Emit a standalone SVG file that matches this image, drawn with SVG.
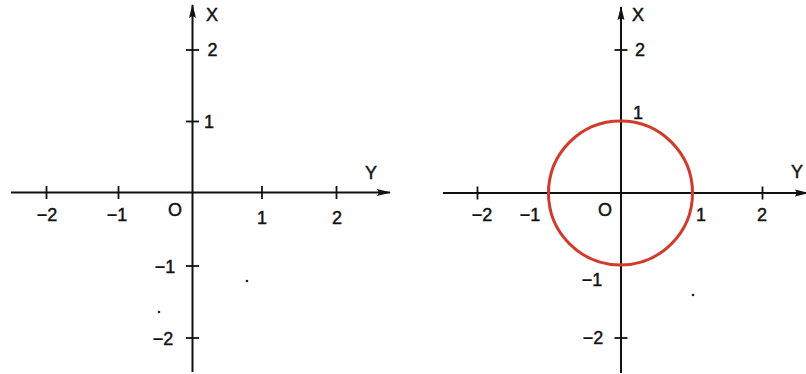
<svg xmlns="http://www.w3.org/2000/svg" width="806" height="374" viewBox="0 0 806 374">
<defs>
<marker id="arr" viewBox="0 0 14 8" refX="13" refY="4" markerWidth="14" markerHeight="8" markerUnits="userSpaceOnUse" orient="auto">
<path d="M0,0.5 L14,4 L0,7.5 L2,4 Z" fill="#111"/>
</marker>
<style>
.ax{stroke:#111;stroke-width:2;fill:none}
.tk{stroke:#111;stroke-width:1.8}
.t{font-family:"Liberation Sans",Arial,sans-serif;font-size:18px;fill:#111;stroke:#111;stroke-width:0.45;text-anchor:middle;dominant-baseline:central}
.circ{fill:none;stroke:#d03c2c;stroke-width:3}
</style>
</defs>
<rect width="806" height="374" fill="#fff"/>

<g id="left-plot">
<g id="left-axes" class="connectors">
<line class="ax" x1="11" y1="192.5" x2="390" y2="192.5" marker-end="url(#arr)"/>
<line class="ax" x1="192.5" y1="372" x2="192.5" y2="5" marker-end="url(#arr)"/>
</g>
<g id="left-ticks">
<line class="tk" x1="46.5" y1="186" x2="46.5" y2="199"/>
<line class="tk" x1="118.5" y1="186" x2="118.5" y2="199"/>
<line class="tk" x1="262" y1="186" x2="262" y2="199"/>
<line class="tk" x1="336.5" y1="186" x2="336.5" y2="199"/>
<line class="tk" x1="186" y1="50" x2="199" y2="50"/>
<line class="tk" x1="186" y1="121.5" x2="199" y2="121.5"/>
<line class="tk" x1="186" y1="266" x2="199" y2="266"/>
<line class="tk" x1="186" y1="338" x2="199" y2="338"/>
</g>
<g id="left-labels">
<text class="t" x="212" y="15">X</text>
<text class="t" x="371" y="173">Y</text>
<text class="t" x="212.5" y="50">2</text>
<text class="t" x="209" y="122">1</text>
<text class="t" x="47" y="215">−2</text>
<text class="t" x="117" y="215">−1</text>
<text class="t" x="175" y="210">O</text>
<text class="t" x="262" y="218">1</text>
<text class="t" x="337" y="218">2</text>
<text class="t" x="165" y="267">−1</text>
<text class="t" x="163" y="339">−2</text>
</g>
<circle cx="247" cy="281" r="1.3" fill="#222"/>
<circle cx="159" cy="312" r="1.3" fill="#222"/>
</g>

<g id="right-plot">
<g id="right-axes" class="connectors">
<line class="ax" x1="443" y1="193" x2="808" y2="193" marker-end="url(#arr)"/>
<line class="ax" x1="621" y1="373" x2="621" y2="7" marker-end="url(#arr)"/>
</g>
<g id="right-ticks">
<line class="tk" x1="477.5" y1="186.5" x2="477.5" y2="199.5"/>
<line class="tk" x1="548.5" y1="186.5" x2="548.5" y2="199.5"/>
<line class="tk" x1="692" y1="186.5" x2="692" y2="199.5"/>
<line class="tk" x1="762.5" y1="186.5" x2="762.5" y2="199.5"/>
<line class="tk" x1="614.5" y1="50" x2="627.5" y2="50"/>
<line class="tk" x1="614.5" y1="121" x2="627.5" y2="121"/>
<line class="tk" x1="614.5" y1="265" x2="627.5" y2="265"/>
<line class="tk" x1="614.5" y1="338" x2="627.5" y2="338"/>
</g>
<g id="unit-circle">
<circle class="circ" cx="620.5" cy="193" r="72"/>
</g>
<g id="right-labels">
<text class="t" x="638" y="15">X</text>
<text class="t" x="797" y="172">Y</text>
<text class="t" x="640" y="50">2</text>
<text class="t" x="638" y="113">1</text>
<text class="t" x="482" y="215">−2</text>
<text class="t" x="530" y="215">−1</text>
<text class="t" x="605" y="210">O</text>
<text class="t" x="701" y="215">1</text>
<text class="t" x="762" y="215">2</text>
<text class="t" x="592" y="280">−1</text>
<text class="t" x="593" y="338">−2</text>
</g>
<circle cx="693" cy="295" r="1.3" fill="#222"/>
</g>
</svg>
